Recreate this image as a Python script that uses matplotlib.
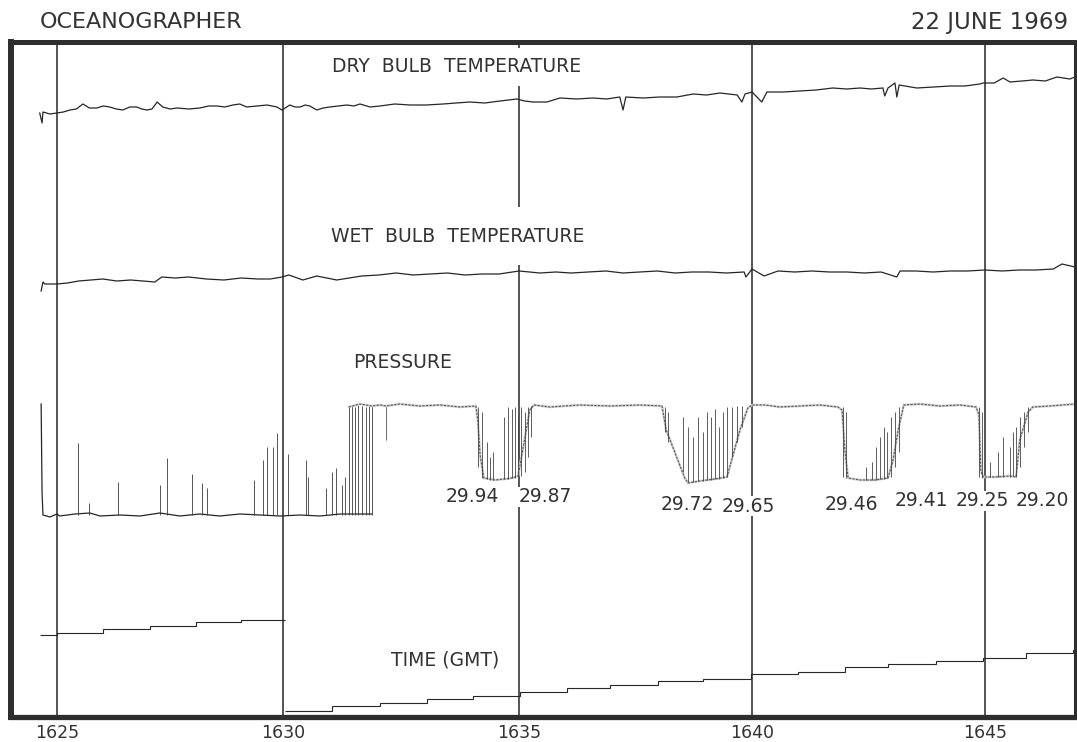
'''
Oceanographer chart recorder strip, 22 June 1969
Dry bulb, wet bulb, pressure and time traces from 1625 to 1647 GMT
'''

import matplotlib
matplotlib.use('Agg')
import matplotlib.pyplot as plt

# x values are minutes after 1625 GMT, y values are chart divisions (0 bottom, 135 top)

# time marks on the chart paper
markTimes = [0.0, 4.87, 9.96, 14.98, 20.0]
markLabels = ['1625', '1630', '1635', '1640', '1645']

# dry bulb temperature trace
dryT = [-0.37, -0.32, -0.30, -0.15, 0.00, 0.14, 0.28, 0.42, 0.56, 0.70, 0.86, 1.00, 1.14, 1.28,
        1.42, 1.57, 1.72, 1.83, 1.94, 2.05, 2.16, 2.28, 2.44, 2.59, 2.84, 3.08, 3.27, 3.45,
        3.62, 3.79, 3.94, 4.09, 4.31, 4.53, 4.74, 4.85, 5.02, 5.13, 5.24, 5.35, 5.45, 5.60,
        5.74, 5.88, 6.06, 6.25, 6.40, 6.53, 6.75, 6.96, 7.28, 7.61, 7.96, 8.32, 8.60, 8.90,
        9.22, 9.55, 9.91, 10.08, 10.26, 10.56, 10.84, 11.20, 11.55, 11.85, 12.13, 12.20,
        12.26, 12.63, 13.00, 13.36, 13.71, 14.00, 14.29, 14.66, 14.76, 14.83, 14.98, 15.19,
        15.30, 15.65, 16.01, 16.36, 16.72, 17.02, 17.31, 17.55, 17.80, 17.84, 17.91, 18.06,
        18.10, 18.15, 18.53, 18.90, 19.25, 19.57, 19.89, 19.96, 20.20, 20.39, 20.54, 20.80,
        21.03, 21.30, 21.55, 21.83, 21.94]
dryV = [120.8, 118.8, 121.0, 120.6, 120.8, 121.0, 121.4, 121.6, 122.6, 121.8, 121.8, 122.2, 122.0, 121.6,
        121.4, 122.0, 122.0, 121.6, 121.4, 121.6, 123.0, 122.0, 121.6, 121.8, 121.6, 121.8, 122.2, 122.2,
        122.0, 122.4, 122.6, 122.0, 122.2, 122.4, 122.0, 121.4, 122.4, 122.0, 122.0, 122.4, 122.2, 121.4,
        121.8, 122.0, 122.2, 122.4, 122.2, 122.6, 122.0, 122.2, 122.6, 122.4, 122.4, 122.6, 122.8, 123.0,
        122.8, 123.2, 123.6, 123.2, 123.0, 123.0, 123.8, 123.6, 123.8, 123.6, 124.0, 121.4,
        124.0, 123.8, 124.0, 124.0, 124.6, 124.4, 124.8, 124.4, 123.0, 124.6, 125.0, 123.0,
        125.0, 125.0, 125.2, 125.4, 125.8, 125.6, 125.8, 125.6, 125.8, 124.2, 125.8, 126.8,
        124.0, 126.4, 125.8, 126.0, 126.2, 126.2, 126.6, 126.8, 126.8, 127.8, 127.0, 127.2,
        127.4, 127.2, 128.0, 127.6, 128.0]

# wet bulb temperature trace
wetT = [-0.34, -0.30, -0.26, 0.00, 0.23, 0.47, 0.73, 0.99, 1.29, 1.59, 1.85, 2.11, 2.26, 2.55,
        2.84, 3.22, 3.60, 3.97, 4.33, 4.60, 4.85, 5.00, 5.30, 5.60, 6.03, 6.30, 6.57, 6.94,
        7.31, 7.68, 8.04, 8.42, 8.79, 9.16, 9.53, 9.96, 10.41, 10.75, 11.08, 11.45, 11.83,
        12.20, 12.56, 12.94, 13.32, 13.68, 14.05, 14.43, 14.81, 14.85, 14.98, 15.24, 15.54,
        15.90, 16.27, 16.65, 17.03, 17.40, 17.76, 18.10, 18.17, 18.51, 18.88, 19.25, 19.62,
        20.00, 20.37, 20.73, 21.10, 21.47, 21.66, 21.94]
wetV = [85.2, 87.0, 86.6, 86.6, 86.8, 87.2, 87.4, 87.6, 87.2, 87.4, 87.2, 87.0, 88.0, 87.8,
        88.0, 87.6, 87.4, 87.8, 87.6, 87.6, 88.0, 88.4, 87.4, 88.2, 87.4, 87.8, 88.2, 88.4,
        88.8, 88.4, 88.6, 88.8, 88.4, 88.6, 88.6, 89.2, 88.8, 89.0, 88.8, 89.0, 89.2,
        88.8, 89.0, 89.2, 88.8, 89.0, 89.0, 88.8, 89.0, 88.0, 89.6, 88.2, 89.2,
        89.0, 89.2, 89.0, 89.0, 88.8, 89.0, 88.0, 89.2, 89.2, 89.0, 89.2, 89.2,
        89.4, 89.2, 89.4, 89.4, 89.6, 90.6, 90.0]

# pressure trace, low part before the jump
pressLowT = [-0.34, -0.32, -0.30, -0.15, 0.00, 0.06, 0.39, 0.71, 0.93, 1.36, 1.79, 2.22, 2.65,
             3.08, 3.51, 3.94, 4.38, 4.81, 5.24, 5.67, 6.10, 6.53, 6.79]
pressLowV = [62.6, 44.8, 40.4, 40.0, 40.6, 40.2, 40.6, 40.8, 40.2, 40.4, 40.2, 40.8, 40.2,
             40.6, 40.2, 40.6, 40.4, 40.2, 40.4, 40.2, 40.6, 40.6, 40.6]

# pressure spikes on the low part (time, top)
spikeT = [0.45, 0.69, 1.31, 2.22, 2.37, 2.91, 3.13, 3.23, 4.25, 4.44, 4.53, 4.66, 4.74,
          4.98, 5.37, 5.41, 5.80, 5.93, 6.01, 6.14, 6.21,
          6.29, 6.36, 6.42, 6.49, 6.57, 6.66, 6.72, 6.79]
spikeTop = [54.8, 42.8, 47.0, 46.4, 51.8, 48.6, 46.8, 45.8, 47.4, 51.4, 54.0, 54.0, 56.8,
            52.6, 51.4, 48.0, 45.8, 49.0, 49.8, 46.4, 48.0,
            62.0, 62.2, 62.0, 62.4, 62.2, 62.0, 62.4, 62.2]

# pressure trace, high part with four troughs
pressHighT = [6.29, 6.53, 6.79, 6.96, 7.09, 7.39, 7.82, 8.25, 8.69, 9.03,
              9.07, 9.12, 9.20, 9.44, 9.66, 9.81, 9.94, 10.19, 10.28,
              10.62, 11.27, 11.92, 12.56, 13.04,
              13.13, 13.53, 13.60, 13.86, 14.18, 14.44, 14.72, 14.89,
              14.98, 15.26, 15.58, 16.01, 16.44, 16.83,
              16.92, 16.98, 17.05, 17.31, 17.63, 17.91, 18.02, 18.13, 18.25,
              18.60, 19.03, 19.46, 19.81,
              19.87, 19.91, 19.96, 20.22, 20.54, 20.67, 20.75, 20.93, 21.03,
              21.40, 21.94]
pressHighV = [62.0, 62.6, 62.2, 62.4, 62.2, 62.6, 62.2, 62.4, 62.0, 62.2,
              59.4, 52.4, 47.8, 47.4, 47.6, 47.8, 48.2, 61.4, 62.4,
              62.0, 62.4, 62.2, 62.4, 62.2,
              57.4, 47.8, 46.8, 47.2, 47.6, 48.0, 57.4, 61.8,
              62.4, 62.4, 62.0, 62.2, 62.4, 62.0,
              61.4, 53.4, 47.8, 47.4, 47.4, 47.8, 51.4, 57.4, 62.4,
              62.6, 62.2, 62.4, 62.0,
              60.4, 49.4, 48.0, 48.0, 48.2, 48.0, 55.4, 61.0, 62.0,
              62.2, 62.6]

# pen swings inside the troughs (time, low, high)
swingT = [9.07, 9.16, 9.27, 9.33, 9.40, 9.63, 9.72, 9.81, 9.87, 9.94, 10.00, 10.09, 10.15, 10.22,
          13.10, 13.17, 13.49, 13.60, 13.71, 13.81, 13.92, 14.01, 14.09, 14.18, 14.27, 14.35,
          14.44, 14.55, 14.66, 14.76,
          16.94, 17.00, 17.44, 17.57, 17.65, 17.74, 17.82, 17.89, 17.97, 18.06, 18.15,
          19.87, 19.94, 20.11, 20.28, 20.39, 20.54, 20.60, 20.67, 20.75, 20.84, 20.93]
swingLow = [50.0, 47.8, 47.6, 47.4, 47.4, 47.6, 47.6, 47.8, 47.8, 48.0, 48.2, 49.0, 52.0, 56.0,
            57.0, 55.0, 49.0, 47.0, 47.0, 47.2, 47.2, 47.4, 47.4, 47.6, 47.6, 47.8,
            48.0, 52.0, 55.0, 58.0,
            48.0, 47.8, 47.4, 47.4, 47.4, 47.6, 47.6, 47.8, 48.0, 50.0, 53.0,
            48.0, 47.8, 48.0, 48.0, 48.0, 48.0, 48.2, 48.0, 50.0, 54.0, 57.0]
swingHigh = [62.0, 61.0, 55.0, 52.0, 53.0, 60.0, 62.0, 61.6, 62.0, 60.0, 62.0, 61.0, 62.0, 62.2,
             62.0, 61.0, 60.0, 58.0, 56.0, 60.0, 57.0, 61.0, 60.0, 61.6, 58.0, 61.0,
             62.0, 62.0, 62.2, 62.2,
             62.0, 61.0, 50.0, 51.0, 54.0, 56.0, 58.0, 57.0, 60.0, 61.0, 62.0,
             62.0, 61.0, 51.0, 53.0, 56.0, 54.0, 57.0, 58.0, 60.0, 61.0, 62.0]

# pressure readings written on the chart (text, time, height)
readings = [('29.94', 8.96, 44.0), ('29.87', 10.52, 44.0), ('29.72', 13.58, 42.6),
            ('29.65', 14.89, 42.2), ('29.46', 17.13, 42.6), ('29.41', 18.64, 43.2),
            ('29.25', 19.94, 43.2), ('29.20', 21.23, 43.2)]

# time (GMT) stepping pen, two sweeps
timeEdges1 = [-0.37, 0.0, 0.99, 2.00, 3.00, 3.97, 4.91]
timeLevels1 = [16.4, 16.8, 17.6, 18.2, 19.0, 19.4]
timeEdges2 = [4.91, 5.93, 6.96, 7.97, 8.97, 9.98, 10.99, 11.92, 12.95, 13.92, 14.96, 15.97,
              16.98, 17.91, 18.94, 19.96, 20.88, 21.90, 21.98]
timeLevels2 = [1.2, 2.2, 2.8, 3.6, 4.2, 5.0, 5.8, 6.4, 7.2, 7.6, 8.6, 9.0, 10.0, 10.6,
               11.2, 11.8, 12.8, 13.4]

INK = '#262626'
TEXT = '#333333'


# chart paper frame and time marks
def drawPaper(ax):
    ax.set_xlim(-1.0, 21.94)
    ax.set_ylim(0, 135)
    for side, width in [('left', 4.3), ('top', 3.6), ('bottom', 3.8), ('right', 2.2)]:
        ax.spines[side].set_linewidth(width)
        ax.spines[side].set_color('#2e2e2e')
    ax.spines['top'].set_capstyle('projecting')
    ax.spines['bottom'].set_capstyle('projecting')
    for t in markTimes:
        if t == markTimes[2]:
            # the 1635 line is broken around the temperature titles
            ax.vlines(t, 133.8, 135, color=INK, lw=1.1)
            ax.vlines(t, 102.0, 126.2, color=INK, lw=1.1)
            ax.vlines(t, 0, 90.4, color=INK, lw=1.1)
        else:
            ax.vlines(t, 0, 135, color=INK, lw=1.1)
    ax.set_xticks(markTimes, markLabels)
    ax.set_yticks([])
    ax.tick_params(axis='x', length=0, pad=5, labelsize=12.5, labelcolor=TEXT)


# the four recorder traces
def drawTraces(ax):
    ax.plot(dryT, dryV, color=INK, lw=0.9)
    ax.plot(wetT, wetV, color=INK, lw=0.9)

    ax.plot(pressLowT, pressLowV, color=INK, lw=0.9)
    ax.vlines(spikeT, 40.4, spikeTop, color='#3a3a3a', lw=0.6)
    ax.vlines(7.09, 55.4, 62.2, color='#555555', lw=0.6)
    # the upper pressure level is a fuzzy band of dots
    ax.plot(pressHighT, pressHighV, color='#d2d2d2', lw=1.8, solid_joinstyle='round')
    ax.plot(pressHighT, pressHighV, color='#555555', lw=0.8, ls=(0, (2, 1.2)))
    ax.vlines(swingT, swingLow, swingHigh, color='#444444', lw=0.6)

    ax.stairs(timeLevels1, timeEdges1, baseline=None, color=INK, lw=0.8)
    ax.stairs(timeLevels2, timeEdges2, baseline=None, color=INK, lw=0.8)


# lettering on the chart
def drawLabels(fig, ax):
    fig.text(40 / 1077, 1 - 22 / 742, 'OCEANOGRAPHER', ha='left', va='center',
             fontsize=16, color=TEXT)
    fig.text(1068 / 1077, 1 - 22 / 742, '22 JUNE 1969', ha='right', va='center',
             fontsize=16.5, color=TEXT)
    ax.text(8.62, 130.0, 'DRY  BULB  TEMPERATURE', ha='center', va='center', fontsize=13.5, color=TEXT)
    ax.text(8.64, 96.0, 'WET  BULB  TEMPERATURE', ha='center', va='center', fontsize=13.5, color=TEXT)
    ax.text(7.44, 71.0, 'PRESSURE', ha='center', va='center', fontsize=13.5, color=TEXT)
    ax.text(8.36, 11.4, 'TIME (GMT)', ha='center', va='center', fontsize=13.5, color=TEXT)
    for text, t, v in readings:
        ax.text(t, v, text, ha='center', va='center', fontsize=13.5, color=TEXT,
                bbox=dict(facecolor='white', edgecolor='none', pad=0.5))


def main():
    fig = plt.figure(figsize=(10.77, 7.42), dpi=100)
    ax = fig.add_axes([10.5 / 1077, 25 / 742, 1064.5 / 1077, 675 / 742])
    drawPaper(ax)
    drawTraces(ax)
    drawLabels(fig, ax)
    fig.savefig('out.png', dpi=100)


main()
